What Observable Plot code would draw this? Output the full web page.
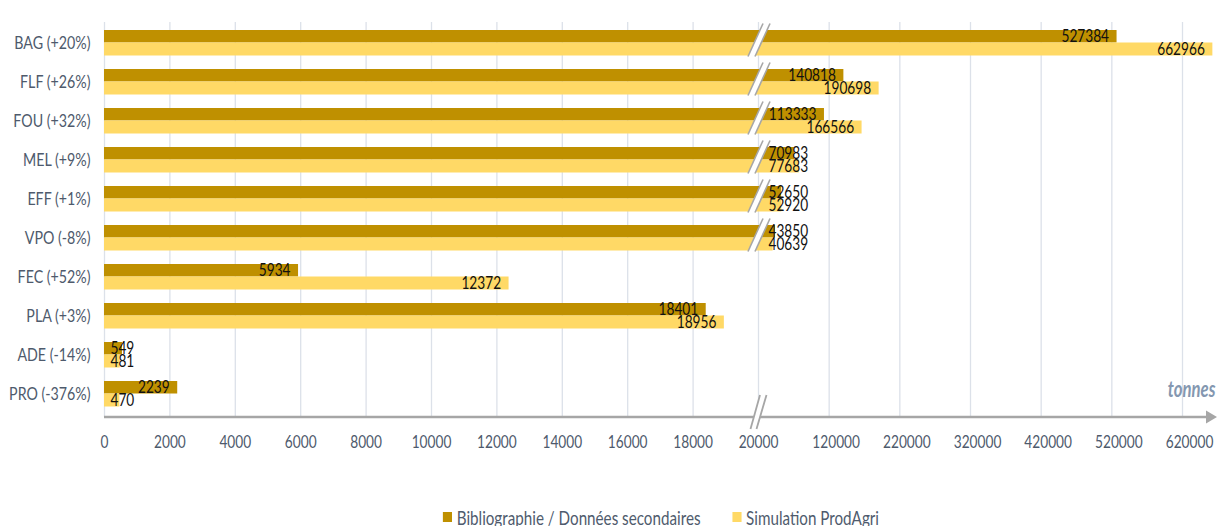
<!DOCTYPE html>
<html>
<head>
<meta charset="utf-8">
<script src="https://cdn.jsdelivr.net/npm/d3@7"></script>
<script src="https://cdn.jsdelivr.net/npm/@observablehq/plot@0.6"></script>
<style>
  body { margin: 0; background: #fff; font-family: Lato, "Liberation Sans", sans-serif; }
  #legend { height: 30px; padding-left: 104px; display: flex; justify-content: center; align-items: center; gap: 42px; font-size: 20px; color: #4F5B6D; transform: scaleX(0.76); transform-origin: 661px 50%; }
  #legend .item { display: flex; align-items: center; gap: 6px; white-space: nowrap; }
  #legend .sw { width: 12px; height: 10px; display: inline-block; }
</style>
</head>
<body>
<div id="chart"></div>
<div id="legend"></div>
<script>
// ---- data ----
const categories = ["BAG (+20%)", "FLF (+26%)", "FOU (+32%)", "MEL (+9%)", "EFF (+1%)", "VPO (-8%)", "FEC (+52%)", "PLA (+3%)", "ADE (-14%)", "PRO (-376%)"];
const seriesNames = ["Bibliographie / Données secondaires", "Simulation ProdAgri"];
const biblio   = [527384, 140818, 113333, 70983, 52650, 43850, 5934, 18401, 549, 2239];
const prodagri = [662966, 190698, 166566, 77683, 52920, 40639, 12372, 18956, 481, 470];
const xTicksLeft  = [0, 2000, 4000, 6000, 8000, 10000, 12000, 14000, 16000, 18000, 20000];
const xTicksRight = [120000, 220000, 320000, 420000, 520000, 620000];
const breakValue = 20000;
const unitLabel = "tonnes";

// ---- styles ----
const colors = ["#BF9000", "#FFD966"];
const textColor = "#4E5A6C";
const FONT = `Lato, "Liberation Sans", sans-serif`;
const squeeze = 0.76;      // horizontal compression of texts (condensed look of the reference)
const squeezeCat = 0.79;
const FS = 18;

// ---- layout ----
const W = 1218, H = 502;
const xDomain = [0, breakValue, 620000];
const xRange = [104, 758, 1182];
const yRange = [22.5, 412.5];
const xs = d3.scaleLinear().domain(xDomain).range(xRange);

const rows = [];
categories.forEach((c, i) => {
  rows.push({category: c, series: 0, value: biblio[i]});
  rows.push({category: c, series: 1, value: prodagri[i]});
});

// label placement: end-anchored inside the bar end when it fits, otherwise at the start of the segment
const digitW = 7.7;
rows.forEach(d => {
  const seg = d.value > breakValue ? breakValue : 0;
  const pad = seg ? 10 : 6;
  const len = xs(d.value) - xs(seg);
  d.seg = seg;
  d.fits = len - 8 - String(d.value).length * digitW >= pad;
});

const insets = [{insetTop: 7, insetBottom: 19.5}, {insetTop: 19.5, insetBottom: 6.5}];
const labelDy = [-6.5, 6.5];

function barBreaks(index, scales, values, dims) {
  const x = scales.x, y = scales.y;
  const bw = (y && y.bandwidth) ? y.bandwidth() : 39;
  const g = d3.create("svg:g");
  const x0 = x(breakValue);
  categories.forEach((c, i) => {
    if (Math.max(biblio[i], prodagri[i]) <= breakValue) return;
    const cy = y(c) + bw / 2;
    const yt = cy - 19, yb = cy + 14;
    const l = [[x0 - 10, yb], [x0 + 5, yt]];
    const r = [[x0 - 3, yb], [x0 + 12, yt]];
    g.append("polygon").attr("points", [l[0], l[1], r[1], r[0]].join(" ")).attr("fill", "white");
    for (const s of [l, r]) {
      g.append("line").attr("x1", s[0][0]).attr("y1", s[0][1]).attr("x2", s[1][0]).attr("y2", s[1][1])
        .attr("stroke", "#A6A6A6").attr("stroke-width", 1.6);
    }
  });
  return g.node();
}

function axisLine(index, scales, values, dims) {
  const yA = dims.height - dims.marginBottom;
  const xStart = scales.x(0), xEnd = dims.width - 1;
  const x0 = scales.x(breakValue);
  const g = d3.create("svg:g");
  g.append("line").attr("x1", xStart).attr("x2", xEnd - 8).attr("y1", yA).attr("y2", yA)
    .attr("stroke", "#A6A6A6").attr("stroke-width", 2.6);
  g.append("polygon").attr("points", [[xEnd - 11, yA - 6.5], [xEnd, yA], [xEnd - 11, yA + 6.5]].join(" ")).attr("fill", "#A6A6A6");
  const l = [[x0 - 7.5, yA + 12], [x0 + 2, yA - 22]];
  const r = [[x0 - 1.5, yA + 12], [x0 + 8.5, yA - 22]];
  g.append("polygon").attr("points", [l[0], l[1], r[1], r[0]].join(" ")).attr("fill", "white");
  for (const s of [l, r]) {
    g.append("line").attr("x1", s[0][0]).attr("y1", s[0][1]).attr("x2", s[1][0]).attr("y2", s[1][1])
      .attr("stroke", "#A6A6A6").attr("stroke-width", 1.8);
  }
  return g.node();
}

const chart = Plot.plot({
  width: W,
  height: H,
  marginLeft: 104,
  marginRight: 1,
  marginTop: 22,
  marginBottom: 85,
  style: {fontFamily: FONT, fontSize: FS + "px", background: "#fff", display: "block"},
  x: {type: "linear", domain: xDomain, range: xRange, axis: null},
  y: {type: "band", domain: categories, range: yRange, padding: 0, axis: null},
  marks: [
    Plot.ruleX(xTicksLeft.concat(xTicksRight), {x: d => d, stroke: "#DCE1E9", strokeWidth: 1.3}),
    ...[0, 1].map(s => Plot.barX(rows.filter(d => d.series === s), {
      x: "value", y: "category", fill: colors[s], ...insets[s]
    })),
    barBreaks,
    ...[0, 1].flatMap(s => [
      Plot.text(rows.filter(d => d.series === s && d.fits), {
        x: "value", y: "category", text: d => String(d.value), textAnchor: "end", dx: -8, dy: labelDy[s],
        fill: "#111", fontSize: FS
      }),
      Plot.text(rows.filter(d => d.series === s && !d.fits && d.seg === 0), {
        x: "seg", y: "category", text: d => String(d.value), textAnchor: "start", dx: 6, dy: labelDy[s],
        fill: "#111", fontSize: FS
      }),
      Plot.text(rows.filter(d => d.series === s && !d.fits && d.seg > 0), {
        x: "seg", y: "category", text: d => String(d.value), textAnchor: "start", dx: 10, dy: labelDy[s],
        fill: "#111", fontSize: FS
      })
    ]),
    Plot.text(categories, {y: d => d, frameAnchor: "left", dx: -14, textAnchor: "end", fill: textColor, fontSize: FS}),
    Plot.text(xTicksLeft, {x: d => d, frameAnchor: "bottom", dy: 25, lineAnchor: "middle", text: d => String(d), fill: textColor, fontSize: FS}),
    Plot.text(xTicksRight, {x: d => d, frameAnchor: "bottom", dy: 25, dx: 7, lineAnchor: "middle", text: d => String(d), fill: textColor, fontSize: FS}),
    axisLine,
    Plot.text([unitLabel], {frameAnchor: "bottom-right", dx: -2, dy: -21, textAnchor: "end", lineAnchor: "bottom",
      fill: "#8497B0", fontSize: 22, fontWeight: "bold", fontStyle: "italic"})
  ]
});
document.getElementById("chart").appendChild(chart);

// condensed look: compress each text horizontally, keeping its anchor
chart.querySelectorAll("text").forEach(t => {
  const w = t.getComputedTextLength();
  if (w > 0) {
    const k = categories.includes(t.textContent) ? squeezeCat : squeeze;
    t.setAttribute("textLength", (w * k).toFixed(2));
    t.setAttribute("lengthAdjust", "spacingAndGlyphs");
  }
});

const legend = document.getElementById("legend");
seriesNames.forEach((name, i) => {
  const item = document.createElement("span");
  item.className = "item";
  const sw = document.createElement("span");
  sw.className = "sw";
  sw.style.background = colors[i];
  const t = document.createElement("span");
  t.textContent = name;
  item.appendChild(sw);
  item.appendChild(t);
  legend.appendChild(item);
});
</script>
</body>
</html>
